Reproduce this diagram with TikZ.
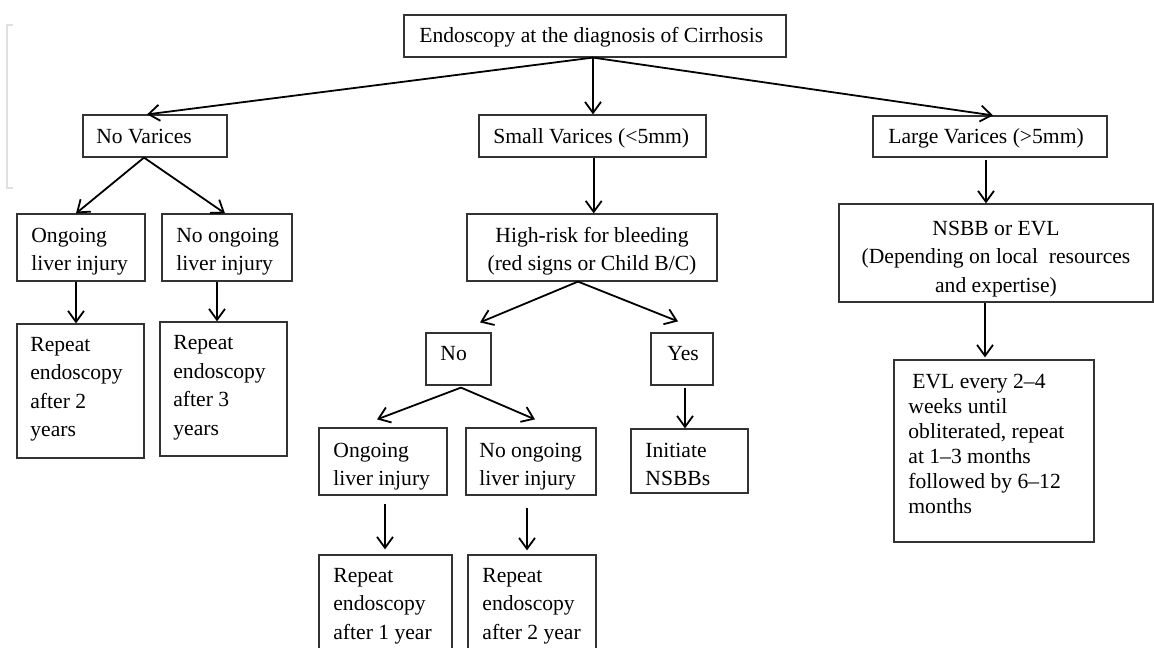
\documentclass[tikz,border=0pt]{standalone}
\usepackage{fontspec}
\setmainfont{Liberation Serif}
\usetikzlibrary{arrows.meta,calc}
\begin{document}
\begin{tikzpicture}[x=0.5pt,y=-0.5pt,
  box/.style={draw=black!80, line width=0.6pt, inner sep=0pt, rectangle},
  txt/.style={inner sep=0pt, font=\fontsize{10.8}{14.25}\selectfont, align=left, anchor=base west},
  ctxt/.style={inner sep=0pt, font=\fontsize{10.8}{14.25}\selectfont, align=center, anchor=base},
  arr/.style={line width=0.9pt, -{Straight Barb[length=5.5pt,width=8pt]}}]
\useasboundingbox (0,0) rectangle (1154,647);
\fill[white] (0,0) rectangle (1154,647);
% faint page bracket
\draw[black!12, line width=1.2pt] (13,25) -- (7,25) -- (7,188) -- (13,188);

% boxes
\node[box, minimum width=191pt, minimum height=21pt] (top) at (595,36) {};
\node[box, minimum width=72pt, minimum height=21pt] (nv) at (155,136) {};
\node[box, minimum width=113.5pt, minimum height=21pt] (sv) at (592.5,136) {};
\node[box, minimum width=117pt, minimum height=20.5pt] (lv) at (990,136.5) {};
\node[box, minimum width=64pt, minimum height=33.5pt] (og1) at (81,247.5) {};
\node[box, minimum width=65pt, minimum height=33.5pt] (nog1) at (227,247.5) {};
\node[box, minimum width=63.5pt, minimum height=67pt] (rp1) at (80.5,391) {};
\node[box, minimum width=63.5pt, minimum height=67pt] (rp2) at (223.5,389) {};
\node[box, minimum width=125pt, minimum height=33.5pt] (hr) at (592,247.5) {};
\node[box, minimum width=32.5pt, minimum height=26pt] (no) at (458.5,359) {};
\node[box, minimum width=31pt, minimum height=26pt] (yes) at (682,359) {};
\node[box, minimum width=64pt, minimum height=33.5pt] (og2) at (383,461.5) {};
\node[box, minimum width=65pt, minimum height=33.5pt] (nog2) at (531,461.5) {};
\node[box, minimum width=58.5pt, minimum height=32pt] (init) at (689.5,461) {};
\node[box, minimum width=66.5pt, minimum height=62.5pt] (rp3) at (385.5,617.5) {};
\node[box, minimum width=64pt, minimum height=62.5pt] (rp4) at (532,617.5) {};
\node[box, minimum width=157pt, minimum height=49pt] (nsbb) at (996,253) {};
\node[box, minimum width=100pt, minimum height=91pt] (evl) at (994,451) {};

% texts (anchor base = baseline of the last line)
\node[txt] (top-t) at (419,43) {Endoscopy at the diagnosis of Cirrhosis};
\node[txt] (nv-t) at (96,143) {No Varices};
\node[txt] (sv-t) at (493,143) {Small Varices (<5mm)};
\node[txt] (lv-t) at (888,143) {Large Varices (>5mm)};
\node[txt] (og1-t) at (31,270.5) {Ongoing\\liver injury};
\node[txt] (nog1-t) at (176,270.5) {No ongoing\\liver injury};
\node[txt] (rp1-t) at (30,436.5) {Repeat\\endoscopy\\after 2\\years};
\node[txt] (rp2-t) at (173,435) {Repeat\\endoscopy\\after 3\\years};
\node[ctxt] (hr-t) at (592,270.5) {High-risk for bleeding\\(red signs or Child B/C)};
\node[txt] (no-t) at (440,360) {No};
\node[txt] (yes-t) at (667,360) {Yes};
\node[txt] (og2-t) at (333,485.5) {Ongoing\\liver injury};
\node[txt] (nog2-t) at (479,485.5) {No ongoing\\liver injury};
\node[txt] (init-t) at (645,485.5) {Initiate\\NSBBs};
\node[txt] (rp3-t) at (333,639) {Repeat\\endoscopy\\after 1 year};
\node[txt] (rp4-t) at (482,639) {Repeat\\endoscopy\\after 2 year};
\node[ctxt] (nsbb-t) at (996,292) {NSBB or EVL\\(Depending on local\ \ resources\\and expertise)};
\node[txt, font=\fontsize{10.8}{12.5}\selectfont] (evl-t) at (908,513) {\hspace{2pt}EVL every 2–4\\weeks until\\obliterated, repeat\\at 1–3 months\\followed by 6–12\\months};

% connectors
\coordinate (o) at ([xshift=-1pt]top.south);
\draw[arr] (o) -- ([xshift=-4pt]nv.north);
\draw[arr] (o) -- (o |- sv.north);
\draw[arr] (o) -- ([xshift=1.5pt]lv.north);

\coordinate (nvs) at ([xshift=-5.5pt]nv.south);
\draw[arr] (nvs) -- ([xshift=-2.5pt]og1.north);
\draw[arr] (nvs) -- ([xshift=-1pt]nog1.north);
\coordinate (og1s) at ([xshift=-2.5pt]og1.south);
\draw[arr] (og1s) -- (og1s |- rp1.north);
\coordinate (nog1s) at ([xshift=-5pt]nog1.south);
\draw[arr] (nog1s) -- (nog1s |- rp2.north);

\coordinate (svs) at ([xshift=0.6pt]sv.south);
\draw[arr] (svs) -- (svs |- hr.north);
\coordinate (hrs) at ([xshift=-7pt]hr.south);
\draw[arr] (hrs) -- ([xshift=10.75pt,yshift=5pt]no.north);
\draw[arr] (hrs) -- ([xshift=-2pt,yshift=5.5pt]yes.north);
\coordinate (nos) at ([xshift=1.25pt,yshift=-1pt]no.south);
\draw[arr] (nos) -- ([xshift=-3pt,yshift=4pt]og2.north);
\draw[arr] (nos) -- ([xshift=2pt,yshift=4pt]nog2.north);
\coordinate (yess) at ([xshift=1.5pt,yshift=-1pt]yes.south);
\draw[arr] (yess) -- (yess |- init.north);
\coordinate (og2s) at ([xshift=1pt,yshift=-4pt]og2.south);
\draw[arr] (og2s) -- ($(og2s |- rp3.north)+(0,-5)$);
\coordinate (nog2s) at ([xshift=-2pt,yshift=-6pt]nog2.south);
\draw[arr] (nog2s) -- ($(nog2s |- rp4.north)+(0,-4)$);

\coordinate (lvs) at ([xshift=-2pt,yshift=-1pt]lv.south);
\draw[arr] (lvs) -- (lvs |- nsbb.north);
\coordinate (nsbbs) at ([xshift=-5.5pt]nsbb.south);
\draw[arr] (nsbbs) -- ($(nsbbs |- evl.north)+(0,-2)$);
\end{tikzpicture}
\end{document}
